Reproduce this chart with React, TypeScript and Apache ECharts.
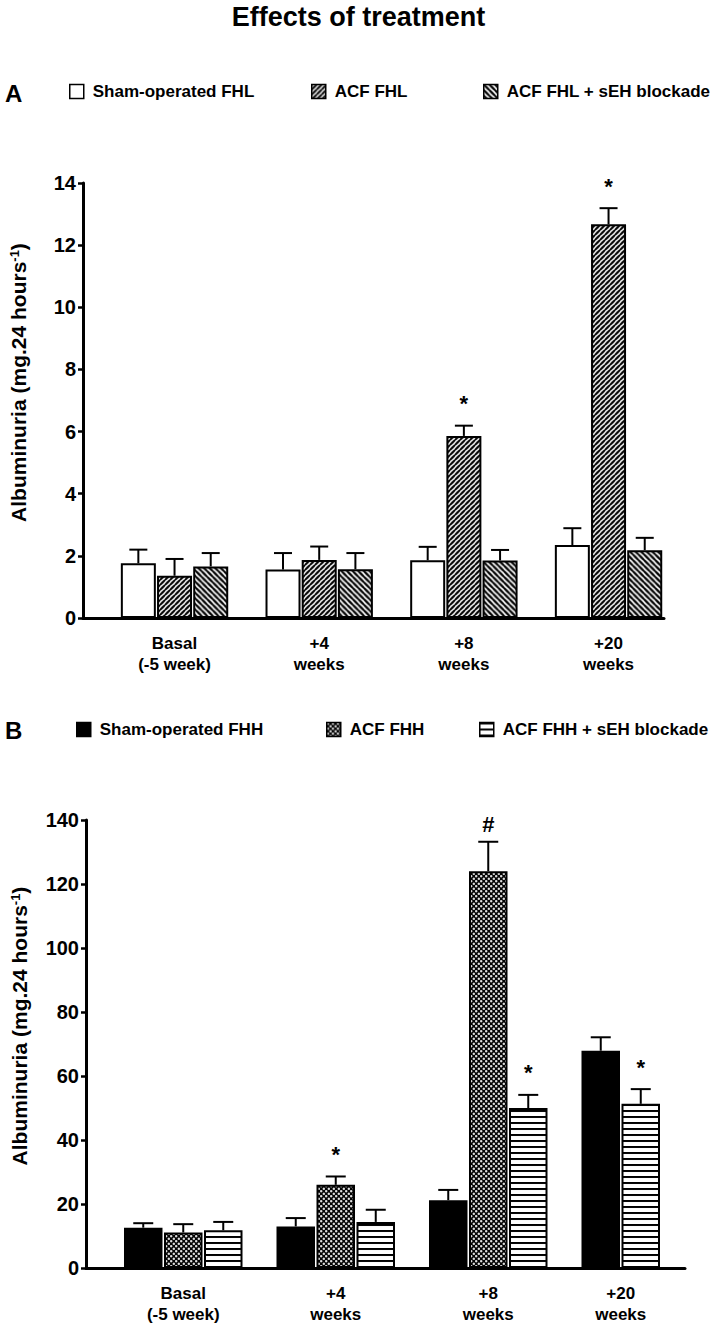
import React, { useEffect, useRef } from 'react';
import * as echarts from 'echarts';

const FONT = "'Liberation Sans', Arial, Helvetica, sans-serif";

// ---------- data ----------
const chartTitle = 'Effects of treatment';
const categories = ['Basal\n(-5 week)', '+4\nweeks', '+8\nweeks', '+20\nweeks'];
const yTitleMain = 'Albuminuria (mg.24 hours';
const yTitleSup = '-1';
const yTitleEnd = ')';

// Panel A
const panelALabel = 'A';
const namesA = ['Sham-operated FHL', 'ACF FHL', 'ACF FHL + sEH blockade'];
const shamFHL = [1.76, 1.56, 1.86, 2.35];
const shamFHLErr = [0.44, 0.53, 0.43, 0.54];
const acfFHL = [1.36, 1.87, 5.86, 12.67];
const acfFHLErr = [0.54, 0.43, 0.33, 0.52];
const sehFHL = [1.66, 1.57, 1.85, 2.18];
const sehFHLErr = [0.43, 0.52, 0.34, 0.4];
const yMinA = 0;
const yMaxA = 14;
const yStepA = 2;
const marksA = [
  { series: 1, cat: 2, text: '*' },
  { series: 1, cat: 3, text: '*' },
];

// Panel B
const panelBLabel = 'B';
const namesB = ['Sham-operated FHH', 'ACF FHH', 'ACF FHH + sEH blockade'];
const shamFHH = [12.6, 13.0, 21.2, 67.9];
const shamFHHErr = [1.4, 2.6, 3.2, 4.2];
const acfFHH = [11.1, 26.0, 124.0, null];
const acfFHHErr = [2.6, 2.6, 9.2, null];
const sehFHH = [11.8, 14.4, 50.0, 51.3];
const sehFHHErr = [2.6, 3.8, 4.1, 4.6];
const yMinB = 0;
const yMaxB = 140;
const yStepB = 20;
const marksB = [
  { series: 1, cat: 1, text: '*' },
  { series: 1, cat: 2, text: '#' },
  { series: 2, cat: 2, text: '*' },
  { series: 2, cat: 3, text: '*' },
];

// ---------- patterns ----------
function tile(size: number, draw: (ctx: CanvasRenderingContext2D, s: number) => void) {
  const k = 6;
  const c = document.createElement('canvas');
  c.width = Math.round(size * k);
  c.height = Math.round(size * k);
  const ctx = c.getContext('2d') as CanvasRenderingContext2D;
  ctx.scale(k, k);
  draw(ctx, size);
  return { image: c, repeat: 'repeat', imageWidth: size, imageHeight: size } as any;
}

function diagPattern(size: number, lw: number, forward: boolean) {
  return tile(size, (ctx, s) => {
    ctx.fillStyle = '#fff';
    ctx.fillRect(0, 0, s, s);
    ctx.strokeStyle = '#000';
    ctx.lineWidth = lw;
    ctx.beginPath();
    for (const c of [-s, 0, s, 2 * s]) {
      if (forward) {
        ctx.moveTo(-s, c + s);
        ctx.lineTo(2 * s, c - 2 * s);
      } else {
        ctx.moveTo(-s, -s - c);
        ctx.lineTo(2 * s, 2 * s - c);
      }
    }
    ctx.stroke();
  });
}

function dotPattern(size: number, r: number) {
  return tile(size, (ctx, s) => {
    ctx.fillStyle = '#000';
    ctx.fillRect(0, 0, s, s);
    ctx.fillStyle = '#fff';
    for (const [cx, cy] of [[s / 4, s / 4], [(3 * s) / 4, (3 * s) / 4]]) {
      ctx.beginPath();
      ctx.moveTo(cx, cy - r);
      ctx.lineTo(cx + r, cy);
      ctx.lineTo(cx, cy + r);
      ctx.lineTo(cx - r, cy);
      ctx.closePath();
      ctx.fill();
    }
  });
}

function hStripePattern(size: number, lw: number) {
  return tile(size, (ctx, s) => {
    ctx.fillStyle = '#fff';
    ctx.fillRect(0, 0, s, s);
    ctx.fillStyle = '#000';
    ctx.fillRect(0, 0, s, lw);
  });
}

// ---------- builders ----------
function buildPanel(p: any, gi: number) {
  const axisGrid = gi;
  const barGrid = gi + 1;
  const slot = p.barWidth * (1 + p.barGapRatio);
  const nS = p.values.length;

  const present = categories.map((_, c) =>
    p.values.map((v: any[], s: number) => (v[c] == null ? -1 : s)).filter((s: number) => s >= 0)
  );
  const slotOf = (s: number, c: number) => present[c].indexOf(s);

  const grids = [
    { left: p.axisLeft, top: p.top, width: p.axisWidth, height: p.height, containLabel: false },
    { left: p.barLeft, top: p.top, width: p.band * categories.length, height: p.height, containLabel: false },
  ];

  const xAxes = [
    {
      gridIndex: axisGrid, type: 'value', min: 0, max: 1,
      axisLine: { show: true, onZero: false, lineStyle: { color: '#000', width: 3 } },
      axisTick: { show: false }, axisLabel: { show: false }, splitLine: { show: false },
    },
    {
      gridIndex: barGrid, type: 'category',
      data: categories.map((c, ci) => {
        const n = present[ci].length;
        if (n < nS) return { value: c, textStyle: { padding: [0, (nS - n) * slot, 0, 0] } };
        return c;
      }),
      axisLine: { show: false }, axisTick: { show: false }, splitLine: { show: false },
      axisLabel: {
        show: true, interval: 0, margin: 15, color: '#000', fontFamily: FONT,
        fontWeight: 'bold', fontSize: 17, lineHeight: 21,
      },
    },
  ];

  const yAxes = [
    {
      gridIndex: axisGrid, type: 'value', min: p.yMin, max: p.yMax, interval: p.yStep,
      axisLine: { show: true, onZero: false, lineStyle: { color: '#000', width: 3 } },
      axisTick: { show: true, length: 5, lineStyle: { color: '#000', width: 2.5 } },
      axisLabel: { color: '#000', fontFamily: FONT, fontWeight: 'bold', fontSize: 20, margin: 7 },
      splitLine: { show: false },
      name: `{t|${yTitleMain}}{s|${yTitleSup}}{t|${yTitleEnd}}`,
      nameLocation: 'middle',
      nameGap: p.nameGap,
      nameRotate: 90,
      nameTextStyle: {
        padding: [0, 0, 0, 36],
        rich: {
          t: { fontFamily: FONT, fontWeight: 'bold', fontSize: 21, color: '#000' },
          s: { fontFamily: FONT, fontWeight: 'bold', fontSize: 13, color: '#000', verticalAlign: 'top' },
        },
      },
    },
    { gridIndex: barGrid, type: 'value', min: p.yMin, max: p.yMax, show: false },
  ];

  const barSeries = p.values.map((vals: any[], s: number) => ({
    type: 'bar',
    name: p.names[s],
    xAxisIndex: barGrid,
    yAxisIndex: barGrid,
    barWidth: p.barWidth,
    barGap: `${(p.barGapRatio * 100).toFixed(2)}%`,
    z: 2,
    itemStyle: { color: p.fills[s], borderColor: '#000', borderWidth: 2 },
    data: categories.map((_, c) => {
      const owner = present[c][s];
      if (owner == null) return '-';
      const v = p.values[owner][c];
      if (owner === s) return v;
      return { value: v, itemStyle: { color: p.fills[owner], borderColor: '#000', borderWidth: 2 } };
    }),
  }));

  const errData: number[][] = [];
  p.values.forEach((vals: any[], s: number) => {
    vals.forEach((v: any, c: number) => {
      if (v == null) return;
      errData.push([c, v, p.errs[s][c], slotOf(s, c)]);
    });
  });

  const errSeries = {
    type: 'custom',
    xAxisIndex: barGrid,
    yAxisIndex: barGrid,
    z: 3,
    silent: true,
    data: errData,
    renderItem: (params: any, api: any) => {
      const c = api.value(0);
      const v = api.value(1);
      const e = api.value(2);
      const sl = api.value(3);
      const base = api.coord([c, v]);
      const top = api.coord([c, v + e]);
      const x = base[0] + (sl - (nS - 1) / 2) * slot;
      const st = { stroke: '#000', lineWidth: 2 };
      return {
        type: 'group',
        children: [
          { type: 'line', shape: { x1: x, y1: base[1], x2: x, y2: top[1] }, style: st },
          { type: 'line', shape: { x1: x - p.cap / 2, y1: top[1], x2: x + p.cap / 2, y2: top[1] }, style: st },
        ],
      };
    },
  };

  const markData = p.marks.map((m: any) => {
    const v = p.values[m.series][m.cat];
    return [m.cat, v + p.errs[m.series][m.cat], slotOf(m.series, m.cat)];
  });

  const markSeries = {
    type: 'custom',
    xAxisIndex: barGrid,
    yAxisIndex: barGrid,
    z: 4,
    silent: true,
    data: markData,
    renderItem: (params: any, api: any) => {
      const m = p.marks[params.dataIndex];
      const pt = api.coord([api.value(0), api.value(1)]);
      const x = pt[0] + (api.value(2) - (nS - 1) / 2) * slot;
      const off = m.text === '#' ? 17 : 22;
      return {
        type: 'text',
        x,
        y: pt[1] - off,
        style: {
          text: m.text, fill: '#000', fontFamily: FONT, fontWeight: 'bold', fontSize: 22,
          align: 'center', verticalAlign: 'middle',
        },
      };
    },
  };

  const legends = p.names.map((n: string, i: number) => ({
    data: [n],
    left: p.legendX[i],
    top: p.legendTop,
    padding: 0,
    icon: 'rect',
    itemWidth: 14,
    itemHeight: 14,
    selectedMode: false,
    itemStyle: { borderColor: '#000', borderWidth: 1.5 },
    textStyle: { fontFamily: FONT, fontWeight: 'bold', fontSize: 17, color: '#000', padding: [0, 0, 0, 4] },
  }));

  return { grids, xAxes, yAxes, series: [...barSeries, errSeries, markSeries], legends };
}

export default function App() {
  const ref = useRef<HTMLDivElement>(null);

  useEffect(() => {
    document.body.style.margin = '0';
    if (!ref.current) return;
    const chart = echarts.init(ref.current, undefined, { renderer: 'svg' });

    const panelA = {
      names: namesA,
      values: [shamFHL, acfFHL, sehFHL],
      errs: [shamFHLErr, acfFHLErr, sehFHLErr],
      fills: ['#ffffff', diagPattern(5, 2.0, true), diagPattern(5.6, 2.2, false)],
      marks: marksA,
      yMin: yMinA, yMax: yMaxA, yStep: yStepA,
      axisLeft: 83, axisWidth: 581, top: 183, height: 435,
      barLeft: 102.2, band: 144.67,
      barWidth: 35, barGapRatio: 0.034, cap: 18,
      nameGap: 54,
      legendX: [69, 311, 483], legendTop: 83,
    };
    const panelB = {
      names: namesB,
      values: [shamFHH, acfFHH, sehFHH],
      errs: [shamFHHErr, acfFHHErr, sehFHHErr],
      fills: ['#000000', dotPattern(5, 1.45), hStripePattern(6, 2)],
      marks: marksB,
      yMin: yMinB, yMax: yMaxB, yStep: yStepB,
      axisLeft: 86, axisWidth: 599, top: 820, height: 448,
      barLeft: 107, band: 159,
      barWidth: 38.5, barGapRatio: 0.039, cap: 20,
      nameGap: 56,
      legendX: [76, 326, 479], legendTop: 721,
    };

    const a = buildPanel(panelA, 0);
    const b = buildPanel(panelB, 2);

    chart.setOption({
      animation: false,
      backgroundColor: '#ffffff',
      title: [
        {
          text: chartTitle, left: 'center', top: 3, padding: 0,
          textStyle: { fontFamily: FONT, fontWeight: 'bold', fontSize: 27, color: '#000' },
        },
        {
          text: panelALabel, left: 5, top: 81, padding: 0,
          textStyle: { fontFamily: FONT, fontWeight: 'bold', fontSize: 24, color: '#000' },
        },
        {
          text: panelBLabel, left: 5, top: 718, padding: 0,
          textStyle: { fontFamily: FONT, fontWeight: 'bold', fontSize: 24, color: '#000' },
        },
      ],
      legend: [...a.legends, ...b.legends],
      grid: [...a.grids, ...b.grids],
      xAxis: [...a.xAxes, ...b.xAxes],
      yAxis: [...a.yAxes, ...b.yAxes],
      series: [...a.series, ...b.series],
    });

    return () => chart.dispose();
  }, []);

  return <div ref={ref} style={{ width: 717, height: 1325 }} />;
}
